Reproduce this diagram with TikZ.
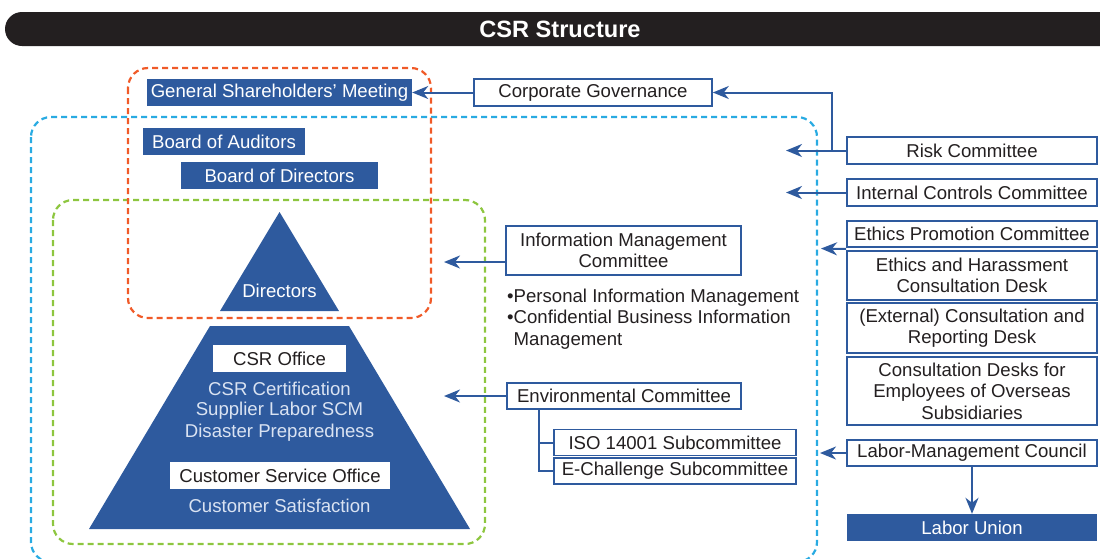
\documentclass[tikz,border=0pt]{standalone}
\usepackage{fontspec}
\setmainfont{Liberation Sans}
\usetikzlibrary{arrows.meta,calc}
\definecolor{cblue}{RGB}{46,90,158}
\definecolor{ctext}{RGB}{35,31,32}
\definecolor{clight}{RGB}{218,227,242}
\definecolor{cdashblue}{RGB}{41,171,226}
\definecolor{cdashorange}{RGB}{240,90,40}
\definecolor{cdashgreen}{RGB}{141,198,63}
\begin{document}
\begin{tikzpicture}[x=1pt,y=-1pt,
  font=\fontsize{18.6}{21.5}\selectfont,
  fbox/.style={fill=cblue,text=white,inner sep=0pt,minimum height=27pt},
  obox/.style={draw=cblue,line width=1.6pt,fill=white,text=ctext,inner sep=0pt,align=center,minimum height=27pt},
  wbox/.style={fill=white,text=ctext,inner sep=0pt,minimum height=27pt},
  arr/.style={draw=cblue,line width=2pt,-{Stealth[length=16pt,width=13pt,inset=5pt]}},
  cline/.style={draw=cblue,line width=2pt},
  dashregion/.style={line width=2.2pt,dash pattern=on 6pt off 4pt,rounded corners=20pt},
  lighttext/.style={text=clight,inner sep=0pt}]
\useasboundingbox (0,0) rectangle (1100,558);
% title bar
\fill[ctext,rounded corners=17pt] (5,12) rectangle (1130,46);
\node[text=white,font=\fontsize{23.6}{26}\selectfont\bfseries] (title) at (560,29.5) {CSR Structure};

% dashed regions
\draw[dashregion,draw=cdashblue] (31,117) rectangle (817,562);
\draw[dashregion,draw=cdashgreen] (53,200) rectangle (485,544);

% pyramid
\fill[cblue] (279.5,212) -- (339,311) -- (220,311) -- cycle;
\fill[cblue] (210,326) -- (349,326) -- (470,529) -- (89,529) -- cycle;
\draw[dashregion,draw=cdashorange] (128,68) rectangle (431,318);

\node[text=white,inner sep=0pt] (dir) at (279.5,291) {Directors};
\node[wbox,minimum width=133pt] (csro) at (279.5,358.5) {CSR Office};
\node[lighttext] (l1) at (279.5,389) {CSR Certification};
\node[lighttext] (l2) at (279.5,411) {Supplier Labor SCM};
\node[lighttext] (l3) at (279.5,433) {Disaster Preparedness};
\node[wbox,minimum width=220pt] (cso) at (280,475.5) {Customer Service Office};
\node[lighttext] (l4) at (279.5,506) {Customer Satisfaction};

% filled boxes
\node[fbox,minimum width=265pt] (gsm) at (279.5,92.5) {General Shareholders’ Meeting};
\node[fbox,minimum width=162pt] (boa) at (224,141.5) {Board of Auditors};
\node[fbox,minimum width=197pt] (bod) at (279.5,175.5) {Board of Directors};

% middle boxes
\node[obox,minimum width=238pt] (cg) at (593,92.5) {Corporate Governance};
\node[obox,minimum width=235pt,minimum height=49pt] (imc) at (623.5,250.5) {Information Management\\Committee};
\node[text=ctext,align=left,anchor=north west,inner sep=0pt] (bul) at (507,288.5)
  {•Personal Information Management\\•Confidential Business Information\\\hphantom{•}Management};
\node[obox,minimum width=234pt,minimum height=26pt] (ec) at (624,396) {Environmental Committee};
\node[obox,minimum width=242pt,minimum height=26pt] (iso) at (675,442.5) {ISO 14001 Subcommittee};
\node[obox,minimum width=242pt,minimum height=26pt] (ech) at (675,471) {E-Challenge Subcommittee};

% right column
\node[obox,minimum width=250pt] (risk) at (972,150.5) {Risk Committee};
\node[obox,minimum width=250pt] (icc) at (972,192.5) {Internal Controls Committee};
\node[obox,minimum width=250pt,minimum height=26pt] (epc) at (972,234) {Ethics Promotion Committee};
\node[obox,minimum width=250pt,minimum height=49pt] (ehc) at (972,275.5) {Ethics and Harassment\\Consultation Desk};
\node[obox,minimum width=250pt,minimum height=50pt] (ext) at (972,328) {(External) Consultation and\\Reporting Desk};
\node[obox,minimum width=250pt,minimum height=68pt] (cde) at (972,391) {Consultation Desks for\\Employees of Overseas\\Subsidiaries};
\node[obox,minimum width=250pt,minimum height=26pt] (lmc) at (972,453) {Labor-Management Council};
\node[fbox,minimum width=250pt] (lu) at (972,527.5) {Labor Union};

% arrow end points
\coordinate (tRisk) at (786,150.5);
\coordinate (tIcc) at (786,192.5);
\coordinate (tEth) at (821,248.5);
\coordinate (tLmc) at (820,453);
\coordinate (tImc) at (444,262);
\coordinate (tEc) at (444,396);
\coordinate (sEth) at ($(epc.south west)!0.5!(ehc.north west)$);

% connectors
\draw[arr] (cg.west) -- (gsm.east);
\draw[arr] (risk.west) -- ++(-14,0) |- (cg.east);
\draw[arr] (risk.west) -- (tRisk);
\draw[arr] (icc.west) -- (tIcc);
\draw[arr] (sEth) -- (tEth);
\draw[arr] (lmc.west) -- (tLmc);
\draw[arr] (lmc.south) -- (lu.north);
\draw[arr] ($(imc.west)+(0,11.5)$) -- (tImc);
\draw[arr] (ec.west) -- (tEc);
\draw[cline] ($(ec.south west)+(33,0)$) |- (iso.west);
\draw[cline] ($(ec.south west)+(33,0)$) |- (ech.west);
\end{tikzpicture}
\end{document}
